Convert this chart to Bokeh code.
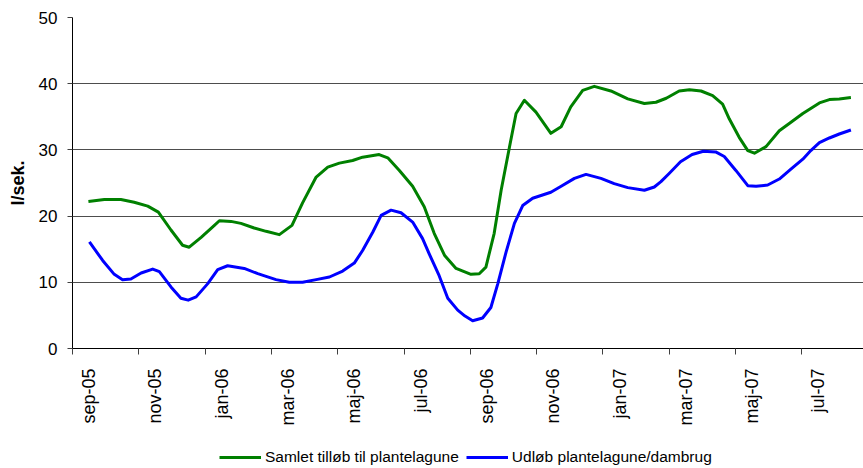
import math
from bokeh.plotting import figure
from bokeh.layouts import column
from bokeh.models import FixedTicker, Range1d, Legend, LegendItem
from bokeh.embed import file_html
from bokeh.resources import INLINE

# x = months since 1 Sep 2005
green_month = [0.48, 0.96, 1.46, 1.86, 2.27, 2.59, 2.97, 3.32, 3.52, 3.88, 4.28, 4.43, 4.78, 5.08,
               5.48, 5.84, 6.24, 6.62, 6.94, 7.35, 7.70, 8.05, 8.45, 8.75, 9.25, 9.51, 9.86, 10.26,
               10.61, 10.91, 11.22, 11.57, 12.02, 12.27, 12.47, 12.72, 12.93, 13.18, 13.38, 13.63,
               13.98, 14.43, 14.74, 15.03, 15.39, 15.74, 16.24, 16.75, 17.25, 17.60, 17.91, 18.30,
               18.61, 18.96, 19.31, 19.61, 19.81, 20.11, 20.37, 20.57, 20.92, 21.32, 21.62, 22.03,
               22.53, 22.83, 23.13, 23.48]
green_value = [22.2, 22.5, 22.5, 22.1, 21.5, 20.6, 17.9, 15.6, 15.3, 16.8, 18.6, 19.3, 19.2, 18.9,
               18.2, 17.7, 17.2, 18.6, 22.0, 25.9, 27.4, 28.0, 28.4, 28.9, 29.3, 28.8, 26.9, 24.5,
               21.4, 17.4, 14.1, 12.1, 11.2, 11.3, 12.3, 17.4, 23.9, 30.4, 35.5, 37.5,
               35.7, 32.5, 33.5, 36.5, 39.0, 39.6, 38.9, 37.7, 37.0, 37.2, 37.8, 38.9,
               39.1, 38.9, 38.2, 36.9, 34.7, 31.9, 29.9, 29.5, 30.5, 32.9, 34.0, 35.5,
               37.1, 37.6, 37.7, 37.9]

blue_month = [0.51, 0.91, 1.26, 1.51, 1.76, 2.07, 2.42, 2.62, 2.97, 3.27, 3.49, 3.73, 4.08, 4.38,
              4.68, 5.18, 5.59, 5.84, 6.14, 6.54, 6.94, 7.35, 7.75, 8.15, 8.50, 8.75, 9.06, 9.31,
              9.61, 9.91, 10.26, 10.56, 10.76, 11.06, 11.32, 11.62, 11.84, 12.07, 12.37, 12.62,
              12.83, 13.08, 13.33, 13.58, 13.88, 14.43, 14.74, 15.14, 15.49, 15.94, 16.34, 16.75,
              17.25, 17.55, 17.75, 17.99, 18.34, 18.69, 19.03, 19.40, 19.66, 20.01, 20.37, 20.62,
              20.97, 21.32, 21.67, 22.03, 22.27, 22.53, 22.83, 23.13, 23.48]
blue_value = [16.1, 13.3, 11.2, 10.4, 10.5, 11.4, 12.0, 11.6, 9.3, 7.6, 7.3, 7.8, 9.8, 11.9,
              12.5, 12.1, 11.3, 10.9, 10.4, 10.0, 10.0, 10.4, 10.8, 11.7, 12.9, 14.8, 17.6, 20.1,
              20.9, 20.5, 19.1, 16.6, 14.3, 11.0, 7.6, 5.8, 4.9, 4.2, 4.6, 6.2,
              9.8, 14.6, 18.9, 21.6, 22.7, 23.6, 24.5, 25.7, 26.3, 25.7, 24.9, 24.3,
              23.9, 24.4, 25.2, 26.4, 28.2, 29.3, 29.8, 29.7, 29.0, 26.9, 24.6, 24.5,
              24.7, 25.6, 27.1, 28.6, 29.9, 31.1, 31.8, 32.4, 33.0]

tick_labels = ["sep-05", "nov-05", "jan-06", "mar-06", "maj-06", "jul-06",
               "sep-06", "nov-06", "jan-07", "mar-07", "maj-07", "jul-07"]
y_ticks = [0, 10, 20, 30, 40, 50]

series_names = ["Samlet tilløb til plantelagune", "Udløb plantelagune/dambrug"]
series_colors = ["#008000", "#0000FF"]
series_x = [green_month, blue_month]
series_y = [green_value, blue_value]
FONT = "Liberation Sans"

p = figure(width=863, height=440, output_backend="svg", toolbar_location=None,
           x_range=Range1d(0, 23.86), y_range=Range1d(0, 50),
           min_border_left=72, min_border_top=17, min_border_right=0, min_border_bottom=92)
p.outline_line_color = None
p.background_fill_color = "white"

# lines
for xs, ys, col in zip(series_x, series_y, series_colors):
    p.line(xs, ys, line_color=col, line_width=3, line_join="round")

# x axis: labels centred in month, ticks at boundaries (minor ticks)
major = [2 * i + 0.5 for i in range(len(tick_labels))]
minor = [2 * i for i in range(len(tick_labels))]
p.xaxis.ticker = FixedTicker(ticks=major, minor_ticks=minor)
p.xaxis.major_label_overrides = {m: lab for m, lab in zip(major, tick_labels)}
p.xaxis.major_tick_out = 0
p.xaxis.major_tick_in = 0
p.xaxis.minor_tick_out = 6
p.xaxis.minor_tick_in = 0
p.xaxis.minor_tick_line_color = "#404040"
p.xaxis.axis_line_color = "black"
p.xaxis.major_label_orientation = math.pi / 2
p.xaxis.major_label_text_font = FONT
p.xaxis.major_label_text_font_size = "18px"
p.xaxis.major_label_text_color = "black"
p.xaxis.major_label_standoff = 14
p.xgrid.visible = False

# y axis
p.yaxis.ticker = FixedTicker(ticks=y_ticks, minor_ticks=[])
p.yaxis.major_tick_out = 5
p.yaxis.major_tick_in = 0
p.yaxis.major_tick_line_color = "#404040"
p.yaxis.axis_line_color = "black"
p.yaxis.major_label_text_font = FONT
p.yaxis.major_label_text_font_size = "17px"
p.yaxis.major_label_text_color = "black"
p.yaxis.major_label_standoff = 10
p.yaxis.axis_label = "l/sek."
p.yaxis.axis_label_text_font = FONT
p.yaxis.axis_label_text_font_size = "18px"
p.yaxis.axis_label_text_font_style = "bold"
p.yaxis.axis_label_text_color = "black"
p.yaxis.axis_label_standoff = 8
p.ygrid.grid_line_color = "#4d4d4d"
p.ygrid.grid_line_width = 1

# legend strip below the chart (its series lie outside its view; only the legend shows)
lf = figure(width=863, height=28, output_backend="svg", toolbar_location=None,
            x_axis_location=None, y_axis_location=None,
            x_range=Range1d(-10, -9), y_range=Range1d(-10, -9),
            min_border_left=0, min_border_right=0, min_border_top=0, min_border_bottom=0)
lf.outline_line_color = None
lf.xgrid.visible = False
lf.ygrid.visible = False
items = []
for name, col, xs, ys in zip(series_names, series_colors, series_x, series_y):
    r = lf.line(xs, ys, line_color=col, line_width=3)
    items.append(LegendItem(label=name, renderers=[r]))

legend = Legend(items=items, orientation="horizontal", location=(147, 2))
legend.label_text_font = FONT
legend.label_text_font_size = "15.5px"
legend.label_text_color = "black"
legend.glyph_width = 42
legend.glyph_height = 16
legend.label_height = 16
legend.label_standoff = 4
legend.spacing = 7
legend.padding = 0
legend.margin = 0
legend.border_line_color = None
legend.background_fill_alpha = 0
lf.add_layout(legend, "center")

layout = column(p, lf, spacing=0)
open("out.html", "w").write(file_html(layout, INLINE))
